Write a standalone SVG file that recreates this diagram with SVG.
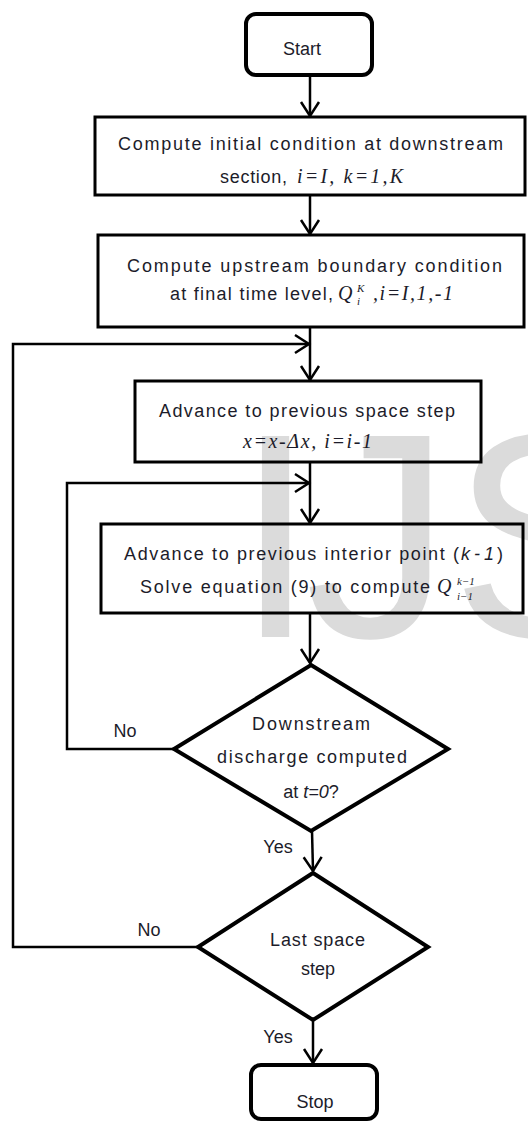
<svg xmlns="http://www.w3.org/2000/svg" width="528" height="1123" viewBox="0 0 528 1123">
<style>
.bg{fill:#fff}
.wm{font-family:"Liberation Sans",Arial,sans-serif;font-size:292px;fill:#dbdbdb}
.term{fill:none;stroke:#000;stroke-width:4}
.proc{fill:none;stroke:#000;stroke-width:3}
.dec{fill:none;stroke:#000;stroke-width:4;stroke-linejoin:miter}
.con{fill:none;stroke:#000;stroke-width:2.5}
.t{font-family:"Liberation Sans",Arial,sans-serif;font-size:18px;fill:#1c1c2a}
.c{text-anchor:middle}
.ti{font-family:"Liberation Sans",Arial,sans-serif;font-size:18px;font-style:italic;fill:#1c1c2a}
.m{font-family:"Liberation Serif","Times New Roman",serif;font-size:20px;font-style:italic;fill:#1c1c2a}
.ms{font-family:"Liberation Serif","Times New Roman",serif;font-size:11px;font-style:italic;fill:#1c1c2a}
</style>
<defs>
<marker id="arr" markerUnits="userSpaceOnUse" markerWidth="20" markerHeight="20" viewBox="-16 -10 18 20" refX="0" refY="0" orient="auto" overflow="visible">
<path d="M-14,-9 L0,0 L-14,9" fill="none" stroke="#000" stroke-width="2.5"/>
</marker>
</defs>
<rect class="bg" x="0" y="0" width="528" height="1123"/>
<text class="wm" x="235 305 451" y="637">IJS</text>

<g id="connectors">
<line class="con" x1="310" y1="76" x2="310" y2="116" marker-end="url(#arr)"/>
<line class="con" x1="310" y1="196" x2="310" y2="234" marker-end="url(#arr)"/>
<line class="con" x1="310" y1="328" x2="310" y2="380" marker-end="url(#arr)"/>
<polyline class="con" points="198,947 13,947 13,344 309,344" marker-end="url(#arr)"/>
<line class="con" x1="310" y1="463" x2="310" y2="523" marker-end="url(#arr)"/>
<polyline class="con" points="174,749 67,749 67,483 309,483" marker-end="url(#arr)"/>
<line class="con" x1="310" y1="614" x2="310" y2="663" marker-end="url(#arr)"/>
<line class="con" x1="312" y1="831" x2="313" y2="871" marker-end="url(#arr)"/>
<line class="con" x1="313" y1="1020" x2="313" y2="1063" marker-end="url(#arr)"/>
<text class="t c" x="125" y="737">No</text>
<text class="t c" x="278" y="853">Yes</text>
<text class="t c" x="149" y="936">No</text>
<text class="t c" x="278" y="1043">Yes</text>
</g>

<g id="start">
<rect class="term" x="246" y="14" width="126" height="61" rx="10"/>
<text class="t c" x="302" y="55">Start</text>
</g>

<g id="init">
<rect class="proc" x="95" y="117" width="430" height="78"/>
<text class="t" x="118" y="150" textLength="385">Compute initial condition at downstream</text>
<text class="t" x="220" y="183" textLength="67">section,</text>
<text class="m" x="297" y="183" textLength="106">i=I, k=1,K</text>
</g>

<g id="upstream">
<rect class="proc" x="98" y="235" width="426" height="92"/>
<text class="t" x="127" y="272" textLength="375">Compute upstream boundary condition</text>
<text class="t" x="170" y="300" textLength="163">at final time level,</text>
<text class="m" x="338" y="300">Q<tspan class="ms" x="357" y="292">K</tspan><tspan class="ms" x="357" y="305">i</tspan></text>
<text class="m" x="373" y="300" textLength="80">,i=I,1,-1</text>
</g>

<g id="space-step">
<rect class="proc" x="135" y="381" width="346" height="81"/>
<text class="t" x="159" y="417" textLength="296">Advance to previous space step</text>
<text class="m" x="243" y="448" textLength="129">x=x-Δx, i=i-1</text>
</g>

<g id="interior">
<rect class="proc" x="101" y="524" width="422" height="89"/>
<text class="t" x="124" y="560" textLength="335">Advance to previous interior point (</text>
<text class="ti" x="461" y="560" textLength="33">k-1</text>
<text class="t" x="497" y="560">)</text>
<text class="t" x="140" y="593" textLength="290">Solve equation (9) to compute</text>
<text class="m" x="437" y="593">Q<tspan class="ms" x="457" y="585">k−1</tspan><tspan class="ms" x="457" y="600">i−1</tspan></text>
</g>

<g id="decision-downstream">
<polygon class="dec" points="311,665 448,749 311,831 174,749"/>
<text class="t" x="252" y="730" textLength="118">Downstream</text>
<text class="t" x="217" y="763" textLength="190">discharge computed</text>
<text class="t c" x="311" y="798">at <tspan class="ti">t=0</tspan>?</text>
</g>

<g id="decision-last">
<polygon class="dec" points="313,873 428,947 313,1020 198,947"/>
<text class="t" x="270" y="946" textLength="95">Last space</text>
<text class="t c" x="318" y="975">step</text>
</g>

<g id="stop">
<rect class="term" x="251" y="1065" width="126" height="54" rx="10"/>
<text class="t c" x="315" y="1108">Stop</text>
</g>
</svg>
